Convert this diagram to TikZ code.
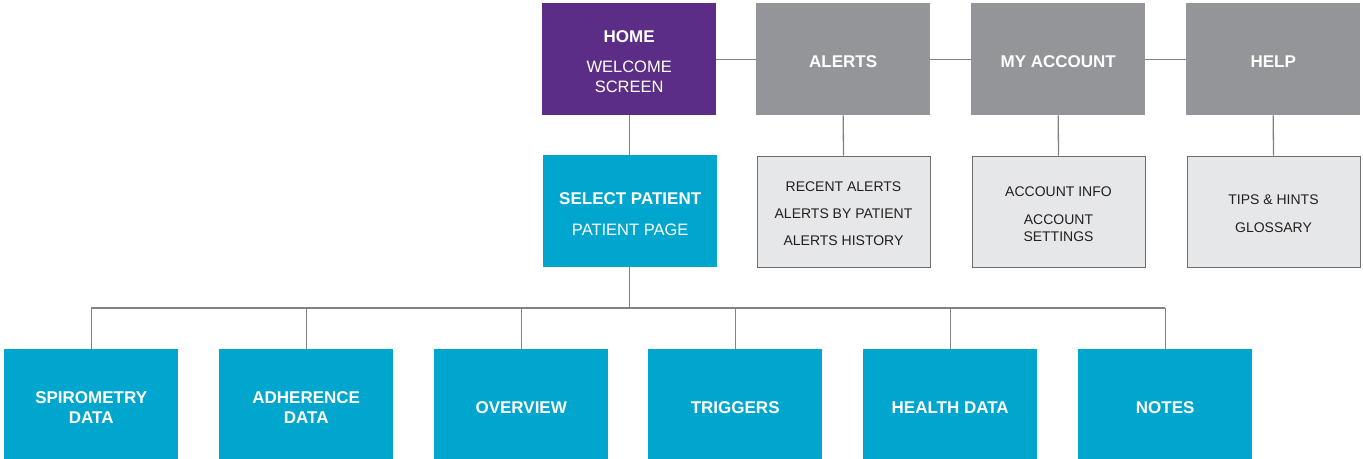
\documentclass[tikz,border=0pt]{standalone}
\usepackage{fontspec}
\setmainfont{Liberation Sans}
\definecolor{homepurple}{HTML}{5C2D87}
\definecolor{navgray}{HTML}{939598}
\definecolor{patientcyan}{HTML}{00A6CE}
\definecolor{subfill}{HTML}{E6E7E8}
\definecolor{subborder}{HTML}{6D6E71}
\definecolor{linkgray}{HTML}{808285}
\definecolor{subtext}{HTML}{231F20}
\begin{document}
\begin{tikzpicture}[x=1pt,y=-1pt,
  box/.style={minimum width=174pt, minimum height=112pt, inner sep=0pt,
    anchor=north west},
  homebox/.style={box, fill=homepurple},
  navbox/.style={box, fill=navgray},
  patientbox/.style={box, fill=patientcyan},
  subbox/.style={box, fill=subfill, draw=subborder, line width=1pt,
    minimum width=173pt, minimum height=111pt},
  lighttext/.style={inner sep=0pt, align=center, text=white,
    font=\fontsize{16.5}{19.5}\selectfont},
  boldtext/.style={lighttext, font=\fontsize{17}{20}\selectfont\bfseries},
  subtextstyle/.style={inner sep=0pt, align=center, text=subtext,
    font=\fontsize{14}{17}\selectfont},
  link/.style={draw=linkgray, line width=1.3pt}]
\useasboundingbox (0,0) rectangle (1363,458);

% top navigation row
\node[homebox] (home) at (542,3) {};
\node[navbox] (alerts) at (756,3) {};
\node[navbox] (account) at (971,3) {};
\node[navbox] (help) at (1186,3) {};
\node[lighttext] (home-t) at ([yshift=-2.5pt]home.center) {{\fontsize{17}{19.5}\selectfont\bfseries HOME}\\[10.5pt]WELCOME\\SCREEN};
\node[boldtext] (alerts-t) at ([yshift=-2pt]alerts.center) {ALERTS};
\node[boldtext] (account-t) at ([yshift=-2pt]account.center) {MY ACCOUNT};
\node[boldtext] (help-t) at ([yshift=-2pt]help.center) {HELP};

% second row
\node[patientbox] (select) at (543,155) {};
\node[subbox] (alertsub) at (756.5,155.5) {};
\node[subbox] (accountsub) at (971.5,155.5) {};
\node[subbox] (helpsub) at (1186.5,155.5) {};
\node[lighttext] (select-t) at ([yshift=-2.5pt]select.center) {{\fontsize{17}{19.5}\selectfont\bfseries SELECT PATIENT}\\[11.5pt]PATIENT PAGE};
\node[subtextstyle] (alertsub-t) at ([yshift=-2.5pt]alertsub.center) {RECENT ALERTS\\[10pt]ALERTS BY PATIENT\\[10pt]ALERTS HISTORY};
\node[subtextstyle] (accountsub-t) at ([yshift=-2.5pt]accountsub.center) {ACCOUNT INFO\\[11pt]ACCOUNT\\SETTINGS};
\node[subtextstyle] (helpsub-t) at ([yshift=-2.5pt]helpsub.center) {TIPS \& HINTS\\[11pt]GLOSSARY};

% patient tabs
\foreach \name/\x/\label in {spiro/4/{SPIROMETRY\\DATA}, adher/219/{ADHERENCE\\DATA},
    overview/434/OVERVIEW, triggers/648/TRIGGERS, health/863/{HEALTH DATA}, notes/1078/NOTES} {
  \node[patientbox] (\name) at (\x,349) {};
  \node[boldtext] (\name-t) at ([yshift=-2.5pt]\name.center) {\label};
}

% connectors
\draw[link] (home.east) -- (alerts.west);
\draw[link] (alerts.east) -- (account.west);
\draw[link] (account.east) -- (help.west);
\draw[link] (home.south) -- (home.south |- select.north);
\draw[link] (alerts.south) -- (alertsub.north);
\draw[link] (account.south) -- (accountsub.north);
\draw[link] (help.south) -- (helpsub.north);
\coordinate (bus) at (628,308);
\draw[link] (home.south |- select.south) -- (home.south |- bus);
\draw[link] (spiro.north |- bus) -- (notes.north |- bus);
\foreach \t in {spiro,adher,overview,triggers,health,notes}
  \draw[link] (\t.north) -- (\t.north |- bus);
\end{tikzpicture}
\end{document}
